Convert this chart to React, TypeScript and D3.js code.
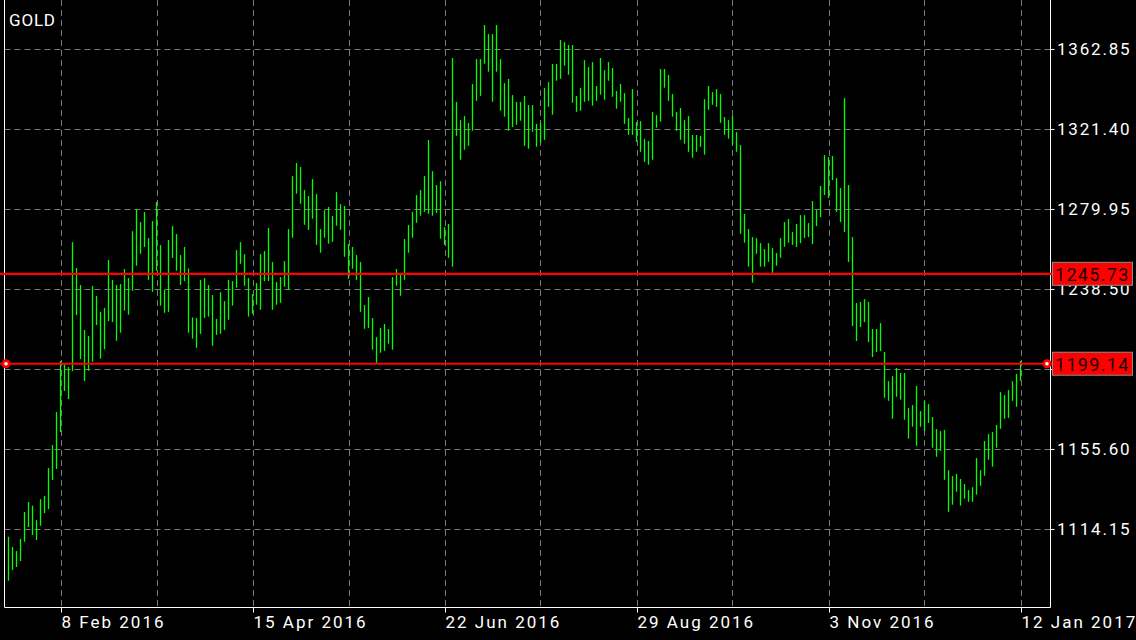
import React from 'react';
import * as d3 from 'd3';

const symbol = 'GOLD';

const highs = [
  1110.3, 1105.0, 1102.9, 1109.1, 1123.1, 1128.3, 1126.4, 1118.9, 1129.8, 1131.4,
  1145.9, 1157.8, 1174.9, 1201.3, 1199.8, 1198.2, 1262.9, 1249.5, 1240.7, 1217.4,
  1214.3, 1240.3, 1235.0, 1226.8, 1228.9, 1253.6, 1243.3, 1240.7, 1241.2, 1249.0,
  1244.3, 1268.6, 1280.0, 1273.3, 1278.5, 1265.0, 1273.8, 1283.7, 1261.4, 1238.1,
  1264.0, 1271.2, 1267.1, 1256.2, 1260.4, 1249.3, 1223.9, 1223.6, 1243.3, 1244.3,
  1240.7, 1235.5, 1223.1, 1237.0, 1232.4, 1243.3, 1242.7, 1258.8, 1262.9, 1256.7,
  1244.3, 1236.0, 1241.7, 1256.7, 1258.3, 1270.2, 1252.6, 1242.2, 1244.8, 1253.1,
  1269.7, 1297.1, 1303.9, 1301.8, 1289.9, 1286.8, 1295.6, 1287.8, 1269.7, 1279.5,
  1281.1, 1276.4, 1288.8, 1282.6, 1281.6, 1261.9, 1260.4, 1256.2, 1252.6, 1230.3,
  1234.5, 1223.6, 1213.7, 1218.4, 1220.5, 1217.9, 1244.8, 1249.0, 1246.0, 1264.5,
  1271.8, 1278.5, 1287.3, 1289.9, 1297.1, 1315.8, 1299.7, 1292.5, 1294.5, 1270.7,
  1272.3, 1358.3, 1335.5, 1326.1, 1328.2, 1324.6, 1344.8, 1357.7, 1357.7, 1375.4,
  1370.7, 1370.7, 1375.4, 1357.7, 1345.3, 1347.4, 1339.1, 1335.5, 1335.5, 1338.6,
  1333.9, 1333.9, 1324.1, 1324.6, 1342.7, 1345.8, 1355.2, 1355.2, 1367.6, 1366.5,
  1365.0, 1365.0, 1338.6, 1342.7, 1357.2, 1353.6, 1356.2, 1343.8, 1358.3, 1352.0,
  1356.2, 1353.1, 1341.2, 1344.8, 1340.1, 1327.2, 1342.2, 1325.1, 1325.6, 1316.3,
  1315.3, 1330.3, 1328.7, 1352.6, 1352.6, 1349.5, 1339.6, 1330.3, 1332.4, 1326.1,
  1328.2, 1318.4, 1318.4, 1317.9, 1337.0, 1343.8, 1340.6, 1342.2, 1339.6, 1327.7,
  1326.1, 1328.2, 1319.9, 1313.2, 1277.5, 1269.7, 1265.5, 1265.0, 1262.4, 1259.3,
  1262.4, 1259.8, 1257.3, 1265.0, 1273.3, 1274.9, 1268.1, 1272.3, 1276.9, 1276.9,
  1272.8, 1284.2, 1279.5, 1292.0, 1308.0, 1307.0, 1307.5, 1296.1, 1290.9, 1337.5,
  1292.5, 1265.5, 1231.4, 1231.9, 1233.4, 1231.9, 1217.9, 1217.9, 1221.0, 1206.0,
  1190.9, 1193.5, 1197.7, 1195.1, 1195.1, 1177.0, 1178.5, 1188.4, 1175.4, 1180.6,
  1179.0, 1172.3, 1166.1, 1165.0, 1165.6, 1144.8, 1141.7, 1142.8, 1140.2, 1137.6,
  1134.5, 1136.0, 1151.1, 1144.8, 1159.9, 1163.5, 1164.5, 1168.2, 1185.2, 1183.7,
  1186.3, 1190.9, 1194.6, 1201.3,
];

const lows = [
  1087.5, 1093.0, 1094.6, 1097.7, 1107.7, 1115.3, 1111.2, 1108.6, 1116.0, 1122.6,
  1124.6, 1139.7, 1145.4, 1164.5, 1185.8, 1181.6, 1196.1, 1225.1, 1202.3, 1190.9,
  1196.3, 1200.9, 1220.0, 1202.5, 1207.4, 1222.0, 1221.5, 1211.8, 1216.0, 1227.4,
  1225.3, 1237.7, 1250.7, 1256.9, 1260.4, 1243.4, 1237.2, 1248.1, 1230.0, 1226.3,
  1226.8, 1254.7, 1248.1, 1240.7, 1242.7, 1216.0, 1212.9, 1208.2, 1215.4, 1223.6,
  1224.3, 1209.2, 1214.9, 1215.4, 1217.5, 1222.7, 1230.0, 1239.3, 1251.7, 1240.3,
  1224.3, 1225.8, 1230.5, 1227.9, 1242.7, 1242.7, 1227.9, 1230.5, 1231.5, 1239.8,
  1238.2, 1265.2, 1288.0, 1282.8, 1271.9, 1269.3, 1275.0, 1261.5, 1257.4, 1265.2,
  1262.1, 1263.1, 1271.4, 1269.3, 1255.3, 1243.9, 1249.1, 1243.4, 1226.8, 1218.0,
  1218.4, 1207.2, 1200.4, 1205.6, 1206.6, 1210.3, 1207.2, 1240.3, 1235.1, 1243.4,
  1257.4, 1265.2, 1272.9, 1276.6, 1278.6, 1277.6, 1276.6, 1278.1, 1264.7, 1261.5,
  1254.8, 1250.2, 1318.0, 1305.6, 1310.8, 1312.8, 1320.6, 1336.1, 1338.7, 1355.3,
  1351.2, 1335.6, 1351.2, 1331.0, 1327.9, 1320.6, 1322.5, 1323.7, 1325.8, 1312.8,
  1311.3, 1320.1, 1312.3, 1314.4, 1315.9, 1333.0, 1328.9, 1346.5, 1347.5, 1354.3,
  1349.6, 1335.1, 1330.4, 1331.0, 1335.6, 1336.1, 1333.6, 1336.1, 1339.3, 1336.7,
  1346.5, 1338.2, 1332.0, 1335.6, 1324.2, 1318.5, 1318.5, 1314.9, 1309.7, 1304.5,
  1303.0, 1305.6, 1322.2, 1325.3, 1342.9, 1336.1, 1327.9, 1320.6, 1315.9, 1313.9,
  1309.7, 1306.6, 1309.7, 1312.3, 1308.2, 1331.5, 1334.1, 1333.0, 1324.7, 1318.5,
  1316.5, 1313.4, 1309.7, 1267.2, 1262.6, 1250.2, 1241.9, 1256.9, 1250.2, 1250.2,
  1252.7, 1247.0, 1250.7, 1254.8, 1260.5, 1262.6, 1261.5, 1260.4, 1262.4, 1265.0,
  1265.5, 1261.9, 1271.2, 1275.9, 1287.3, 1285.7, 1295.1, 1278.5, 1273.3, 1268.1,
  1252.6, 1219.4, 1211.7, 1218.9, 1221.5, 1211.1, 1203.4, 1206.0, 1206.5, 1182.3,
  1180.7, 1171.4, 1182.8, 1181.3, 1170.9, 1161.1, 1167.3, 1157.4, 1167.3, 1165.2,
  1169.3, 1156.4, 1151.7, 1154.8, 1139.8, 1123.2, 1126.9, 1133.6, 1126.4, 1130.0,
  1128.4, 1128.4, 1132.1, 1136.7, 1141.9, 1150.2, 1146.6, 1156.4, 1166.2, 1171.4,
  1171.9, 1180.7, 1177.6, 1191.1,
];

const priceTicks = [1114.15, 1155.6, 1197.05, 1238.5, 1279.95, 1321.4, 1362.85];
// the 1197.05 label sits fully behind the 1199.14 price box in the original
const hiddenPriceLabels = [1197.05];
const dateLabels = ['8 Feb 2016', '15 Apr 2016', '22 Jun 2016', '29 Aug 2016', '3 Nov 2016', '12 Jan 2017'];
const dateLabelBars = [13, 61, 109, 157, 205, 253];
const gridBarStep = 24;
const levelPrices = [1245.73, 1199.14];
const levelWithMarkers = [false, true];

export default function App() {
  const W = 1136;
  const H = 640;
  const frameLeft = 4.5;
  const frameRight = 1050.5;
  const frameBottom = 607.5;
  const n = highs.length;

  const x = d3.scaleLinear().domain([0, n - 1]).range([8.5, 1020.5]);
  const y = d3.scaleLinear().domain([1073.65, 1385.75]).range([607.5, 5]);

  const gridBars = d3.range(dateLabelBars[0], n, gridBarStep);
  const font = 'Roboto, "Liberation Sans", Arial, sans-serif';
  const fmt = d3.format('.2f');

  return (
    <svg
      width={W}
      height={H}
      style={{ position: 'fixed', left: 0, top: 0, background: '#000', display: 'block' }}
      fontFamily={font}
    >
      <rect x={0} y={0} width={W} height={H} fill="#000" />

      {/* vertical grid */}
      {gridBars.map((b) => (
        <line
          key={'vg' + b}
          x1={Math.round(x(b)) + 0.5}
          x2={Math.round(x(b)) + 0.5}
          y1={0}
          y2={frameBottom}
          stroke="#7a7a7a"
          strokeWidth={1}
          strokeDasharray="6,4"
        />
      ))}

      {/* horizontal grid */}
      {priceTicks.map((p) => (
        <line
          key={'hg' + p}
          x1={frameLeft}
          x2={frameRight}
          y1={Math.round(y(p)) + 0.5}
          y2={Math.round(y(p)) + 0.5}
          stroke="#7a7a7a"
          strokeWidth={1}
          strokeDasharray="6,4"
        />
      ))}

      {/* bars */}
      {highs.map((h, i) => (
        <line
          key={'b' + i}
          x1={x(i)}
          x2={x(i)}
          y1={y(h)}
          y2={y(lows[i])}
          stroke="#00ff00"
          strokeWidth={1.3}
        />
      ))}

      {/* frame */}
      <line x1={frameLeft} x2={frameLeft} y1={0} y2={frameBottom} stroke="#fff" strokeWidth={1} />
      <line x1={frameRight} x2={frameRight} y1={0} y2={frameBottom} stroke="#fff" strokeWidth={1} />
      <line x1={frameLeft} x2={frameRight} y1={frameBottom} y2={frameBottom} stroke="#fff" strokeWidth={1} />

      {/* price axis */}
      {priceTicks.map((p) => (
        <g key={'pt' + p}>
          <line
            x1={frameRight}
            x2={frameRight + 4}
            y1={Math.round(y(p)) + 0.5}
            y2={Math.round(y(p)) + 0.5}
            stroke="#fff"
          />
          {!hiddenPriceLabels.includes(p) && (
            <text x={1057} y={y(p) + 6} fill="#fff" fontSize={17} letterSpacing={1.8}>
              {fmt(p)}
            </text>
          )}
        </g>
      ))}

      {/* date axis */}
      {dateLabelBars.map((b, k) => (
        <g key={'dt' + b}>
          <line
            x1={Math.round(x(b)) + 0.5}
            x2={Math.round(x(b)) + 0.5}
            y1={frameBottom}
            y2={frameBottom + 5}
            stroke="#fff"
          />
          <text x={x(b) + 1} y={628} fill="#fff" fontSize={17} letterSpacing={2}>
            {dateLabels[k]}
          </text>
        </g>
      ))}

      {/* level lines */}
      {levelPrices.map((p, k) => {
        const yy = y(p) - 1.5;
        return (
          <g key={'lv' + p}>
            <line x1={0} x2={1052} y1={yy} y2={yy} stroke="#ff0000" strokeWidth={2.2} />
            {levelWithMarkers[k] && (
              <>
                <circle cx={6} cy={yy} r={4.5} fill="#ff0000" />
                <circle cx={6} cy={yy} r={1.8} fill="#fff" />
                <circle cx={1047} cy={yy} r={4.5} fill="#ff0000" />
                <circle cx={1047} cy={yy} r={1.8} fill="#fff" />
              </>
            )}
            <rect
              x={1052.5}
              y={yy - 11.5}
              width={80}
              height={23}
              fill="#ff0000"
              stroke="#8a8a8a"
              strokeWidth={1}
            />
            <text x={1055} y={yy + 7} fill="#1a0000" fontSize={18} letterSpacing={1.3}>
              {fmt(p)}
            </text>
          </g>
        );
      })}

      {/* symbol */}
      <text x={9} y={26} fill="#fff" fontSize={17} letterSpacing={0.8}>
        {symbol}
      </text>
    </svg>
  );
}
